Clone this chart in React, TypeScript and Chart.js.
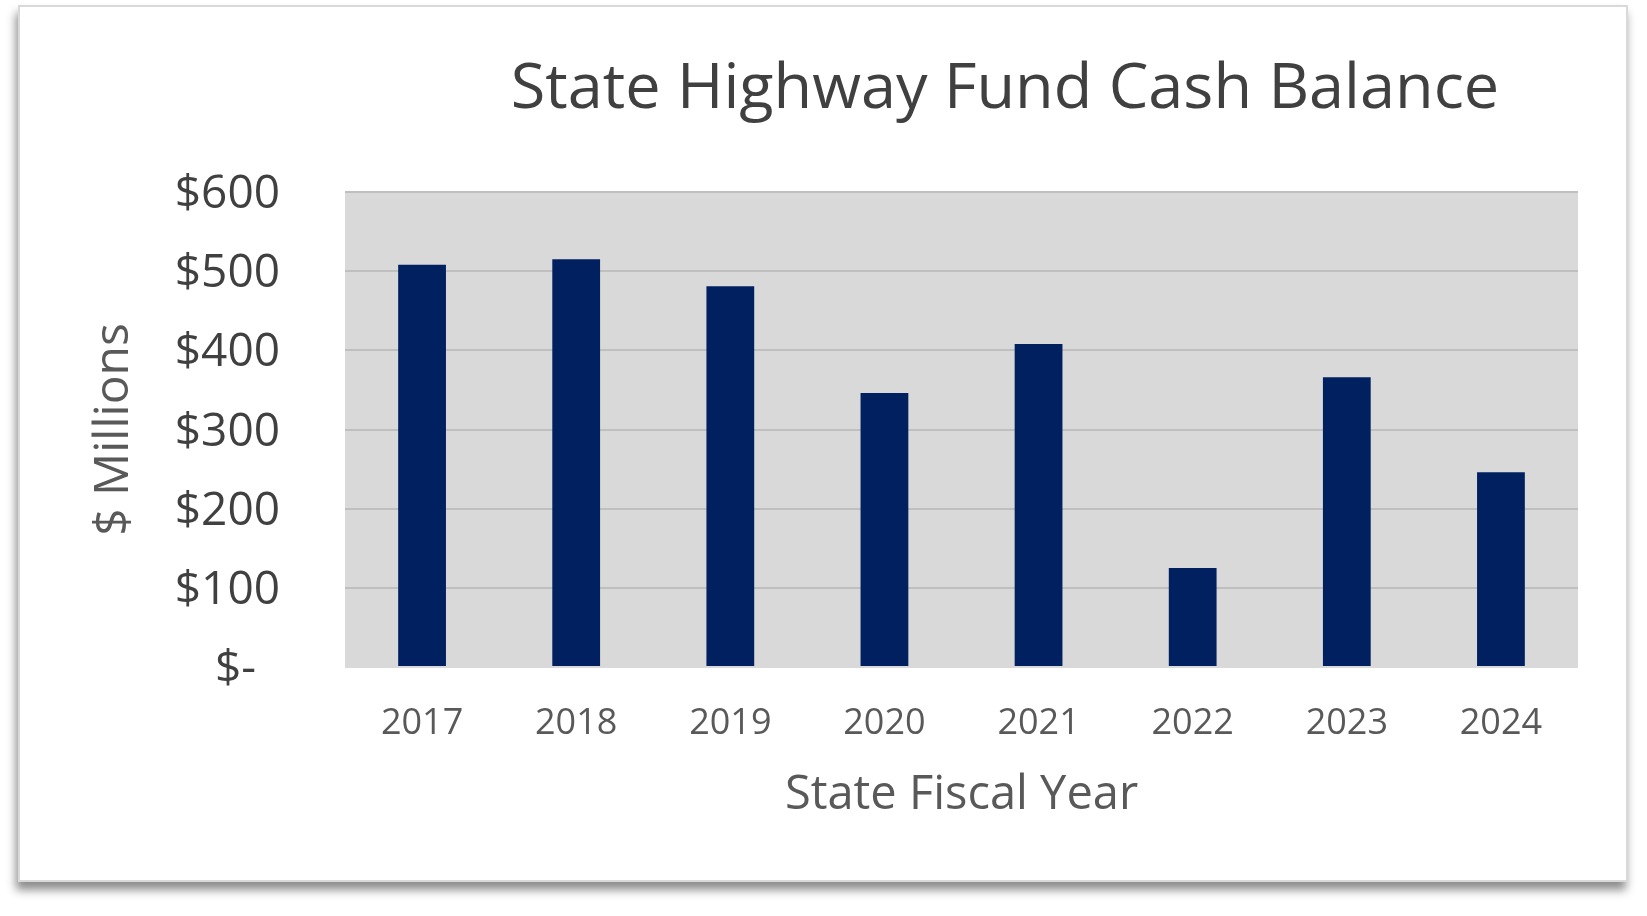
import React, { useEffect, useRef } from "react";
import { Chart, registerables } from "chart.js";

Chart.register(...registerables);

// data
const years = ["2017", "2018", "2019", "2020", "2021", "2022", "2023", "2024"];
const cashBalance = [508, 515, 481, 346, 408, 125, 366, 246];
const yMin = 0;
const yMax = 600;
const yStep = 100;

const chartTitle = "State Highway Fund Cash Balance";
const xTitle = "State Fiscal Year";
const yTitle = "$ Millions";

const W = 1647;
const H = 916;
const FONT = "'Open Sans', 'Noto Sans', sans-serif";

// grey plot area behind the grid
const plotBackground = {
  id: "plotBackground",
  beforeDraw(chart: any) {
    const { ctx, chartArea } = chart;
    ctx.save();
    ctx.fillStyle = "#d9d9d9";
    ctx.fillRect(chartArea.left, chartArea.top, chartArea.right - chartArea.left, chartArea.bottom - chartArea.top + 1);
    ctx.restore();
  },
};

// title sits right of the plot centre, as in the original
const offsetTitle = {
  id: "offsetTitle",
  afterDraw(chart: any) {
    const { ctx } = chart;
    ctx.save();
    ctx.font = `63px ${FONT}`;
    ctx.fillStyle = "#404040";
    ctx.textAlign = "center";
    ctx.textBaseline = "alphabetic";
    ctx.fillText(chartTitle, 1005, 108);
    ctx.restore();
  },
};

export default function App() {
  const canvasRef = useRef<HTMLCanvasElement>(null);

  useEffect(() => {
    if (!canvasRef.current) return;
    const chart = new Chart(canvasRef.current, {
      type: "bar",
      data: {
        labels: years,
        datasets: [
          {
            label: "Cash Balance",
            data: cashBalance,
            backgroundColor: "#002060",
            barPercentage: 0.31,
            categoryPercentage: 1,
          },
        ],
      },
      options: {
        responsive: false,
        animation: false,
        devicePixelRatio: 1,
        layout: { padding: { left: 0, right: 69, top: 192, bottom: 0 } },
        plugins: {
          legend: { display: false },
          tooltip: { enabled: false },
          title: { display: false },
        },
        scales: {
          x: {
            grid: { display: false, drawTicks: false },
            border: { display: false },
            ticks: {
              color: "#595959",
              font: { family: FONT, size: 36 },
              padding: 35,
              maxRotation: 0,
              autoSkip: false,
            },
            title: {
              display: true,
              text: xTitle,
              color: "#595959",
              font: { family: FONT, size: 47 },
              padding: { top: 0, bottom: 92 },
            },
            afterFit(scale: any) {
              scale.height = 249;
            },
          },
          y: {
            min: yMin,
            max: yMax,
            grid: {
              color: (c: any) => (c.tick && c.tick.value === 0 ? "rgba(0,0,0,0)" : "#bfbfbf"),
              lineWidth: 2,
              drawTicks: false,
            },
            border: { display: false },
            ticks: {
              stepSize: yStep,
              color: "#404040",
              font: { family: FONT, size: 46 },
              padding: 65,
              labelOffset: 3,
              callback: (v: any) => (Number(v) === 0 ? "$-  " : "$" + v),
            },
            title: {
              display: true,
              text: yTitle,
              color: "#595959",
              font: { family: FONT, size: 48 },
              padding: { top: 86, bottom: 0 },
            },
            afterFit(scale: any) {
              scale.width = 345;
            },
          },
        },
      },
      plugins: [plotBackground, offsetTitle],
    });
    return () => chart.destroy();
  }, []);

  return (
    <div style={{ position: "absolute", left: 0, top: 0, width: W, height: H, background: "#fff", overflow: "hidden" }}>
      <div
        style={{
          position: "absolute",
          left: 18,
          top: 5,
          width: 1610,
          height: 877,
          boxSizing: "border-box",
          border: "2px solid #d9d9d9",
          background: "#fff",
          boxShadow: "-2px 8px 9px rgba(0,0,0,0.45)",
        }}
      />
      <canvas ref={canvasRef} width={W} height={H} style={{ position: "absolute", left: 0, top: 0, width: W, height: H }} />
    </div>
  );
}
